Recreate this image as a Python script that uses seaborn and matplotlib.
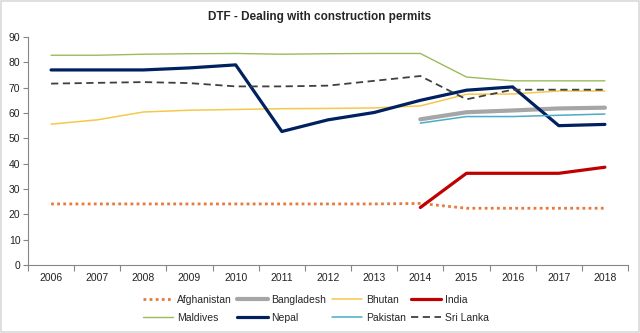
import matplotlib
matplotlib.use("Agg")
import matplotlib.pyplot as plt
import seaborn as sns
import pandas as pd
from matplotlib.patches import Rectangle

years = list(range(2006, 2019))
afghanistan = [24.1, 24.1, 24.1, 24.1, 24.1, 24.1, 24.1, 24.1, 24.3, 22.4, 22.4, 22.4, 22.4]
bangladesh = [None] * 8 + [57.5, 60.3, 61.0, 61.8, 62.1]
bhutan = [55.6, 57.3, 60.4, 61.1, 61.4, 61.7, 61.8, 62.0, 62.8, 67.4, 67.5, 68.7, 68.7]
india = [None] * 8 + [22.7, 36.2, 36.2, 36.2, 38.6]
maldives = [82.8, 82.8, 83.2, 83.4, 83.5, 83.2, 83.4, 83.5, 83.5, 74.2, 72.7, 72.7, 72.7]
nepal = [77.0, 77.0, 77.0, 77.8, 79.0, 52.7, 57.3, 60.2, 65.0, 69.0, 70.3, 55.0, 55.5]
pakistan = [None] * 8 + [56.0, 58.6, 58.6, 59.1, 59.6]
sri_lanka = [71.6, 71.9, 72.2, 71.8, 70.5, 70.5, 70.8, 72.7, 74.6, 65.4, 69.2, 69.2, 69.2]

series = {
    "Afghanistan": afghanistan,
    "Bangladesh": bangladesh,
    "Bhutan": bhutan,
    "India": india,
    "Maldives": maldives,
    "Nepal": nepal,
    "Pakistan": pakistan,
    "Sri Lanka": sri_lanka,
}
styles = {
    "Afghanistan": dict(color="#E8793A", lw=2.0, ls=(0, (1, 1.2))),
    "Bangladesh": dict(color="#A6A6A6", lw=3.0, ls="-"),
    "Bhutan": dict(color="#F5C84C", lw=1.1, ls="-"),
    "India": dict(color="#C00000", lw=2.3, ls="-"),
    "Maldives": dict(color="#9BBB59", lw=1.0, ls="-"),
    "Nepal": dict(color="#002060", lw=2.3, ls="-"),
    "Pakistan": dict(color="#4BACC6", lw=1.1, ls="-"),
    "Sri Lanka": dict(color="#404040", lw=1.3, ls=(0, (4, 2.5))),
}

sns.set_theme(style="white")
plt.rcParams["font.family"] = ["Liberation Sans", "DejaVu Sans"]

fig = plt.figure(figsize=(6.4, 3.33), dpi=100)
ax = fig.add_axes([28 / 640, 1 - 265 / 333, 600 / 640, (265 - 37) / 333])

handles = {}
for name, vals in series.items():
    df = pd.DataFrame({"year": years, "value": vals}).dropna()
    st = styles[name]
    sns.lineplot(data=df, x="year", y="value", ax=ax, color=st["color"],
                 linewidth=st["lw"], linestyle=st["ls"], label=name, legend=False)
    handles[name] = ax.lines[-1]

ax.set_xlim(2005.5, 2018.5)
ax.set_ylim(0, 90)
ax.set_yticks(range(0, 91, 10))
ax.set_xticks(years)
ax.set_xticklabels([str(y) for y in years])
ax.set_xticks([y + 0.5 for y in range(2005, 2019)], minor=True)
ax.tick_params(axis="x", which="major", length=0, labelsize=7.5, pad=6)
ax.tick_params(axis="x", which="minor", length=4, width=0.8, color="#868686", direction="out", bottom=True)
ax.tick_params(axis="y", length=3.5, width=0.8, color="#868686", direction="out", left=True, labelsize=7.5, pad=2)
for lab in ax.get_yticklabels() + ax.get_xticklabels():
    lab.set_color("#222222")
ax.set_xlabel("")
ax.set_ylabel("")
for s in ["top", "right"]:
    ax.spines[s].set_visible(False)
for s in ["left", "bottom"]:
    ax.spines[s].set_color("#868686")
    ax.spines[s].set_linewidth(0.8)
ax.grid(False)

fig.text(0.5, 1 - 17 / 333, "DTF - Dealing with construction permits",
         ha="center", va="center", fontsize=8.5, fontweight="bold")

order = ["Afghanistan", "Maldives", "Bangladesh", "Nepal", "Bhutan", "Pakistan", "India", "Sri Lanka"]
leg = fig.legend([handles[n] for n in order], order, ncol=4, loc="center",
                 bbox_to_anchor=(316 / 640, 1 - 309 / 333), frameon=False,
                 fontsize=7.5, handlelength=2.9, handletextpad=0.35, columnspacing=0.55,
                 labelspacing=0.75)

fig.patches.append(Rectangle((0.002, 0.003), 0.996, 0.994, transform=fig.transFigure,
                             fill=False, edgecolor="#D9D9D9", linewidth=1.2))

fig.savefig("out.png", dpi=100)
